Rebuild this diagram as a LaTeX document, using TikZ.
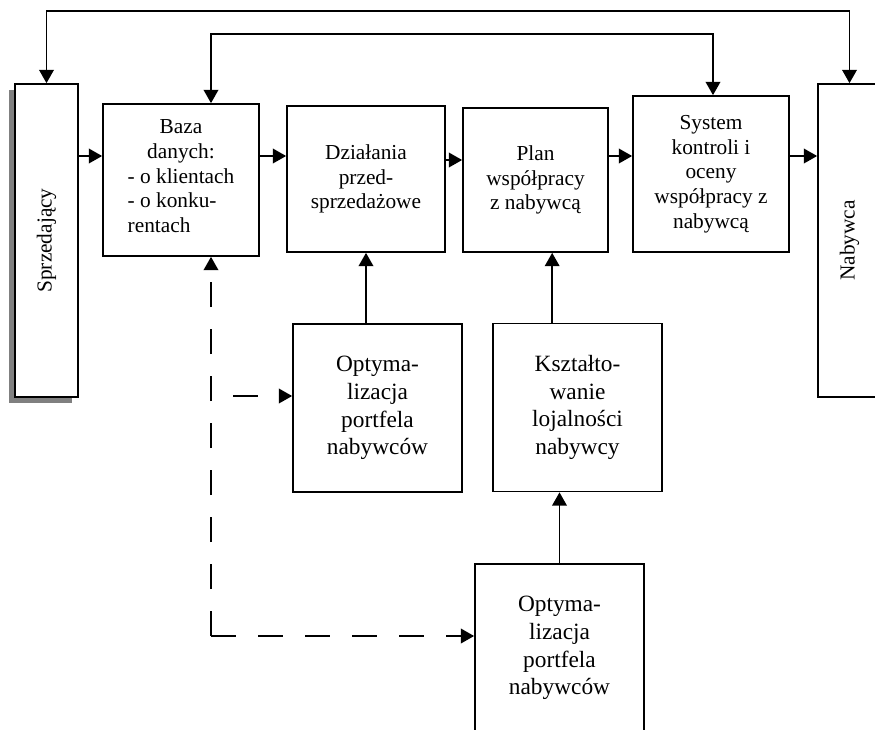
\documentclass[tikz,border=0pt]{standalone}
\usepackage{fontspec}
\setmainfont{Liberation Serif}
\usepackage{graphicx}
\usetikzlibrary{arrows.meta,shadows}
\newcommand{\linia}{1.3pt}

\tikzset{
  blok/.style={draw, line width=\linia, fill=white, align=center, inner sep=2pt,
    font=\fontsize{16}{18.5}\selectfont},
  duzy/.style={blok, minimum width=126.75pt, minimum height=126pt,
    font=\fontsize{17.5}{20.8}\selectfont},
  kreska/.style={dash pattern=on 18.75pt off 16.5pt},
}

\begin{document}
\begin{tikzpicture}[x=.75pt, y=-.75pt, line width=\linia,
    >={Triangle[length=10pt,width=11pt]}]
        \useasboundingbox (0,0) rectangle (875,729);

        \node (sprz) at (46.5,240.5) [blok, minimum width=47.25pt, minimum height=234.75pt,
          drop shadow={shadow xshift=-4.5pt, shadow yshift=-4.5pt, fill=gray, opacity=1}]
          {\rotatebox{90}{Sprzedający}};
        \node (baza) at (181,180) [blok, minimum width=117pt, minimum height=114pt]
          {Baza\\danych:\\\begin{tabular}[t]{@{}l@{}}- o klientach\\- o konku-\\rentach\end{tabular}};
        \node (dzial) at (366,179) [blok, minimum width=118.5pt, minimum height=109.5pt]
          {Działania\\przed-\\sprzedażowe};
        \node (plan) at (535.5,180) [blok, minimum width=108.75pt, minimum height=108pt]
          {Plan\\współpracy\\z nabywcą};
        \node (syst) at (711,174) [blok, minimum width=117pt, minimum height=117pt]
          {System\\kontroli i\\oceny\\współpracy z\\nabywcą};
        \node (naby) at (849.5,240.5) [blok, minimum width=47.25pt, minimum height=234.75pt]
          {\rotatebox{90}{Nabywca}};

        \node (opt1) at (377.5,408) [duzy] {Optyma-\\lizacja\\portfela\\nabywców};
        \node (kszt) at (577.5,407.5) [duzy] {Kształto-\\wanie\\lojalności\\nabywcy};
        \node (opt2) at (559.5,648) [duzy] {Optyma-\\lizacja\\portfela\\nabywców};

        % gorne petle
        \draw[<->] (sprz.north) -- ++(0,-72) -| (naby.north);
        \draw[<->] ([xshift=22.5pt]baza.north) -- ++(0,-69) -| ([xshift=1.5pt]syst.north);

        % glowny ciag
        \draw[->] (sprz.east |- 0,156) -- (baza.west |- 0,156);
        \draw[->] (baza.east |- 0,156) -- (dzial.west |- 0,156);
        \draw[->] (dzial.east |- 0,160) -- (plan.west |- 0,160);
        \draw[->] (plan.east |- 0,156) -- (syst.west |- 0,156);
        \draw[->] (syst.east |- 0,156) -- (naby.west |- 0,156);

        \draw[->] (opt1.north -| dzial.south) -- (dzial.south);
        \coordinate (k1) at ([xshift=-19pt]kszt.north);
        \draw[->] (k1) -- (k1 |- plan.south);
        \draw[->] (opt2.north) -- (opt2.north |- kszt.south);

        % przerywane
        \coordinate (rog) at (211,636);
        \coordinate (odg) at (233,396);
        \draw[->, kreska] (rog) -- (rog -| opt2.west);
        \draw[->, kreska] (rog) -- (rog |- baza.south);
        \draw[->, kreska] (odg) -- (odg -| opt1.west);
      \end{tikzpicture}
\end{document}
